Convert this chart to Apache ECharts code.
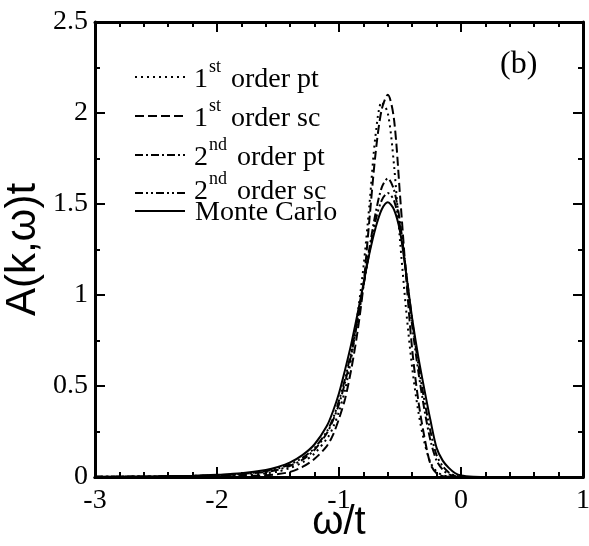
<!DOCTYPE html>
<html>
<head>
<meta charset="utf-8">
<script src="https://cdn.jsdelivr.net/npm/echarts@6/dist/echarts.min.js"></script>
<style>
  html, body { margin: 0; padding: 0; background: #fff; }
  #chart { width: 589px; height: 546px; }
</style>
</head>
<body>
<div id="chart"></div>
<script>
// omega/t grid shared by all curves
const omega = [-3, -2.5, -2.2, -2, -1.8, -1.6, -1.5, -1.4, -1.3, -1.2, -1.1, -1.05, -1.0, -0.95, -0.9, -0.85, -0.8, -0.75, -0.7, -0.65, -0.6, -0.55, -0.5, -0.45, -0.4, -0.35, -0.3, -0.25, -0.2, -0.15, -0.1, -0.05, 0, 0.1, 0.3, 0.6, 1.0]

const firstPt = [0.001, 0.002, 0.004, 0.006, 0.01, 0.02, 0.03, 0.05, 0.08, 0.13, 0.21, 0.27, 0.36, 0.48, 0.65, 0.88, 1.15, 1.5, 1.88, 2.06, 2.0, 1.72, 1.3, 0.92, 0.6, 0.36, 0.19, 0.08, 0.03, 0.01, 0.003, 0.001, 0, 0, 0, 0, 0]
const firstSc = [0, 0.001, 0.002, 0.003, 0.005, 0.01, 0.016, 0.028, 0.055, 0.1, 0.17, 0.23, 0.32, 0.43, 0.59, 0.79, 1.05, 1.42, 1.78, 2.02, 2.1, 1.97, 1.55, 1.1, 0.7, 0.42, 0.22, 0.07, 0.02, 0.005, 0.001, 0, 0, 0, 0, 0, 0]
const secondPt = [0.001, 0.003, 0.005, 0.009, 0.015, 0.028, 0.04, 0.062, 0.095, 0.15, 0.24, 0.31, 0.4, 0.52, 0.67, 0.85, 1.05, 1.26, 1.45, 1.59, 1.64, 1.58, 1.4, 1.12, 0.83, 0.58, 0.37, 0.2, 0.09, 0.04, 0.015, 0.005, 0.001, 0, 0, 0, 0]
const secondSc = [0.001, 0.003, 0.006, 0.01, 0.017, 0.032, 0.047, 0.07, 0.105, 0.16, 0.25, 0.32, 0.42, 0.54, 0.69, 0.86, 1.05, 1.24, 1.41, 1.52, 1.56, 1.52, 1.38, 1.13, 0.86, 0.62, 0.42, 0.25, 0.12, 0.06, 0.025, 0.008, 0.002, 0, 0, 0, 0]
const monteCarlo = [0.002, 0.004, 0.007, 0.012, 0.02, 0.038, 0.055, 0.08, 0.12, 0.18, 0.28, 0.36, 0.46, 0.59, 0.73, 0.89, 1.06, 1.23, 1.37, 1.47, 1.51, 1.47, 1.35, 1.12, 0.87, 0.66, 0.48, 0.31, 0.16, 0.09, 0.05, 0.022, 0.008, 0.002, 0.0005, 0, 0]

const serif = '"Liberation Serif", "DejaVu Serif", serif'
const sans = '"Liberation Sans", Arial, sans-serif'

const dots = [2, 4]
const dashes = [9, 4]
const dashDot = [8, 3, 2, 3]
const dashDotDot = [8, 3, 2, 3, 2, 3]

const pairs = (vals) => omega.map((x, i) => [x, vals[i]])

const chart = echarts.init(document.getElementById('chart'), null, { renderer: 'canvas' })

// fresh object per axis, ticks pointing into the frame
const makeAxis = (pos, min, max, interval, minorSplit, withLabels) => ({
  type: 'value',
  position: pos,
  min: min,
  max: max,
  interval: interval,
  axisLine: { show: true, onZero: false, lineStyle: { color: '#000', width: 3 } },
  axisTick: { show: true, inside: true, length: 10, lineStyle: { color: '#000', width: 2 } },
  minorTick: { show: true, splitNumber: minorSplit, length: 5, lineStyle: { color: '#000', width: 2 } },
  splitLine: { show: false },
  minorSplitLine: { show: false },
  axisLabel: withLabels
    ? { show: true, color: '#000', fontFamily: serif, fontSize: 28, margin: pos === 'bottom' ? 10 : 7 }
    : { show: false }
})

const line = (name, vals, dash, z) => ({
  name: name,
  type: 'line',
  data: pairs(vals),
  showSymbol: false,
  smooth: 0.3,
  z: z,
  lineStyle: { color: '#000', width: 2, type: dash }
})

// legend drawn by hand so the superscripts and uneven spacing match
const legendRows = [
  { y: 77, ty: 80, dash: dots, num: '1', sup: 'st', rest: 'order pt', restX: 231 },
  { y: 116, ty: 119, dash: dashes, num: '1', sup: 'st', rest: 'order sc', restX: 231 },
  { y: 155, ty: 158, dash: dashDot, num: '2', sup: 'nd', rest: 'order pt', restX: 237 },
  { y: 193, ty: 192, dash: dashDotDot, num: '2', sup: 'nd', rest: 'order sc', restX: 237 },
  { y: 211, ty: 213, dash: 'solid', num: '', sup: '', rest: 'Monte Carlo', restX: 195 }
]
const graphic = []
legendRows.forEach((r) => {
  graphic.push({
    type: 'line',
    shape: { x1: 135, y1: r.y, x2: 185, y2: r.y },
    style: { stroke: '#000', lineWidth: 2, lineDash: r.dash === 'solid' ? null : r.dash }
  })
  if (r.num) {
    graphic.push({ type: 'text', x: 194, y: r.ty, style: { text: r.num, font: '28px ' + serif, fill: '#000', verticalAlign: 'middle' } })
    graphic.push({ type: 'text', x: 209, y: r.ty - 13, style: { text: r.sup, font: '18px ' + serif, fill: '#000', verticalAlign: 'middle' } })
  }
  graphic.push({ type: 'text', x: r.restX, y: r.ty, style: { text: r.rest, font: '28px ' + serif, fill: '#000', verticalAlign: 'middle' } })
})
graphic.push({ type: 'text', x: 500, y: 65, style: { text: '(b)', font: '32px ' + serif, fill: '#000', verticalAlign: 'middle' } })

// labelled bottom axis; its ticks come from a twin axis on an overlaid empty grid
const xBottom = makeAxis('bottom', -3, 1, 1, 5, true)
xBottom.axisTick = { show: false }
xBottom.minorTick = { show: false }
xBottom.name = 'ω/t'
xBottom.nameLocation = 'middle'
xBottom.nameGap = 26
xBottom.nameMoveOverlap = false
xBottom.nameTextStyle = { color: '#000', fontFamily: sans, fontSize: 40 }

const yLeft = makeAxis('left', 0, 2.5, 0.5, 2, true)
yLeft.name = 'A(k,ω)t'
yLeft.nameLocation = 'middle'
yLeft.nameGap = 51
yLeft.nameMoveOverlap = false
yLeft.nameRotate = 90
yLeft.nameTextStyle = { color: '#000', fontFamily: sans, fontSize: 42 }

const xTickTwin = makeAxis('bottom', -3, 1, 1, 5, false)
xTickTwin.gridIndex = 1
const yHidden = makeAxis('left', 0, 2.5, 0.5, 2, false)
yHidden.gridIndex = 1
yHidden.show = false

const gridBox = { left: 95, right: 6, top: 22, bottom: 69, outerBoundsMode: 'none' }

const option = {
  animation: false,
  backgroundColor: '#fff',
  grid: [Object.assign({}, gridBox), Object.assign({}, gridBox)],
  xAxis: [xBottom, makeAxis('top', -3, 1, 1, 5, false), xTickTwin],
  yAxis: [yLeft, makeAxis('right', 0, 2.5, 0.5, 2, false), yHidden],
  graphic: graphic,
  series: [
    line('1st order pt', firstPt, dots, 2),
    line('1st order sc', firstSc, dashes, 2),
    line('2nd order pt', secondPt, dashDot, 2),
    line('2nd order sc', secondSc, dashDotDot, 2),
    line('Monte Carlo', monteCarlo, 'solid', 3)
  ]
}

chart.setOption(option)
</script>
</body>
</html>
